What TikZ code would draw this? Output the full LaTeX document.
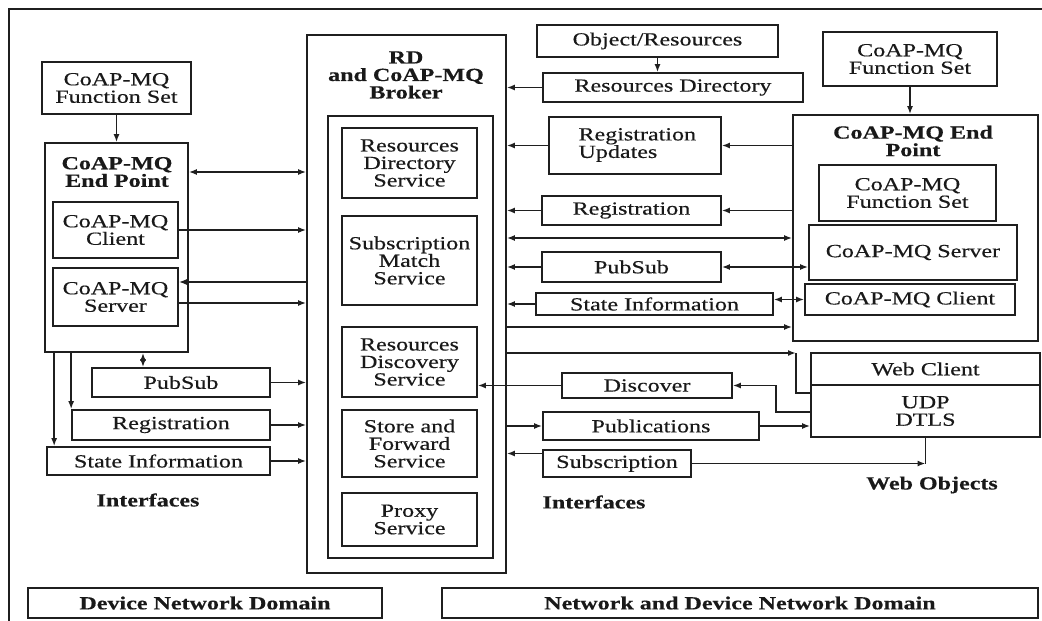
\documentclass[tikz,border=0pt]{standalone}
\usepackage{fontspec}
\setmainfont[FakeStretch=1.3,FakeBold=0.4]{Liberation Serif}
\usetikzlibrary{arrows.meta}
% box from its corner coordinates: [options]{name}{x1}{y1}{x2}{y2}{text}
\newcommand\bx[7][]{\node[box,#1,minimum width={(#5-#3)*1pt},minimum height={(#6-#4)*1pt}] (#2) at ({(#3+#5)/2},{(#4+#6)/2}) {#7};}
\begin{document}
\begin{tikzpicture}[x=1pt,y=-1pt,
  every node/.style={font=\fontsize{18.5}{17.5}\selectfont, text=black!90},
  box/.style={draw=black!88, line width=1.7pt, inner sep=0pt, align=center},
  ttl/.style={font=\fontsize{18.5}{17.5}\selectfont\bfseries, align=center},
  ln/.style={draw=black!88, line width=1.6pt},
  arr/.style={ln, -{Latex[length=8pt,width=6pt]}},
  darr/.style={ln, {Latex[length=8pt,width=6pt]}-{Latex[length=8pt,width=6pt]}},
]
\useasboundingbox (0,0) rectangle (1042,621);
\fill[white] (0,0) rectangle (1042,621);

% outer frame
\draw[ln, line width=2pt] (9,621) -- (9,9) -- (1042,9);

% ---------- left end point ----------
\bx{lfs}{42}{62}{191}{114}{CoAP-MQ\\Function Set}
\bx{lep}{45}{143}{188}{352}{}
\node[ttl] (ltitle) at (117,172) {CoAP-MQ\\End Point};
\bx{lcli}{53}{202}{178}{258}{CoAP-MQ\\Client}
\bx{lsrv}{53}{268}{178}{326}{CoAP-MQ\\Server}
\bx{lpub}{92}{368}{270}{397}{PubSub}
\bx{lreg}{72}{410}{270}{440}{Registration}
\bx{lstate}{47}{447}{270}{475}{State Information}
\node[ttl] (lint) at (148,500) {Interfaces};

% ---------- broker ----------
\bx{broker}{307}{35}{506}{573}{}
\node[ttl] (btitle) at (406,75) {RD\\and CoAP-MQ\\Broker};
\bx{inner}{328}{116}{493}{558}{}
\bx{s1}{342}{128}{477}{198}{Resources\\Directory\\Service}
\bx{s2}{342}{216}{477}{305}{Subscription\\Match\\Service}
\bx{s3}{342}{327}{477}{397}{Resources\\Discovery\\Service}
\bx{s4}{342}{410}{477}{477}{Store and\\Forward\\Service}
\bx{s5}{342}{493}{477}{546}{Proxy\\Service}

% ---------- network side interfaces ----------
\bx{objres}{537}{25}{778}{57}{Object/Resources}
\bx{resdir}{543}{73}{803}{102}{Resources Directory}
\bx{regupd}{549}{117}{721}{174}{}
\node[align=left, anchor=west] (regupdtxt) at (575,145) {Registration\\Updates};
\bx{mreg}{542}{196}{721}{225}{Registration}
\bx{mpub}{542}{252}{721}{282}{PubSub}
\bx{mstate}{536}{293}{773}{315}{State Information}
\bx{discover}{562}{373}{732}{398}{Discover}
\bx{publ}{543}{412}{759}{440}{Publications}
\bx{subs}{543}{450}{691}{477}{Subscription}
\node[ttl] (mint) at (594,502) {Interfaces};

% ---------- right end point ----------
\bx{rfs}{823}{32}{997}{86}{CoAP-MQ\\Function Set}
\bx{rep}{793}{115}{1038}{341}{}
\node[ttl] (rtitle) at (913,141) {CoAP-MQ End\\Point};
\bx{rfsin}{819}{165}{996}{221}{CoAP-MQ\\Function Set}
\bx{rsrv}{809}{225}{1017}{280}{CoAP-MQ Server}
\bx{rcli}{805}{284}{1015}{315}{CoAP-MQ Client}

% ---------- web objects ----------
\bx{webcl}{811}{353}{1040}{385}{Web Client}
\bx{udp}{811}{385}{1040}{437}{UDP\\DTLS}
\node[ttl] (webobj) at (932,485) {Web Objects};

% ---------- domains ----------
\bx[font=\fontsize{18.5}{17.5}\selectfont\bfseries]{dnd}{28}{588}{382}{618}{Device Network Domain}
\bx[font=\fontsize{18.5}{17.5}\selectfont\bfseries]{ndnd}{442}{588}{1038}{618}{Network and Device Network Domain}

% helper points
\coordinate (sa) at ([yshift=15pt]lsrv.east);
\coordinate (sb) at ([yshift=-6pt]lsrv.east);
\coordinate (px) at ([xshift=-38pt]lpub.north);
\coordinate (stx) at ([xshift=8pt]lstate.north west);
\coordinate (ya) at (0,238);
\coordinate (yb) at (0,327);
\coordinate (c1) at (796,353);
\coordinate (c2) at (796,393);
\coordinate (c3) at (776,412);
\coordinate (sc) at ([yshift=10pt]subs.west);
\coordinate (c4) at (udp.south |- subs.east);

% ---------- connectors, left ----------
\draw[arr] (lfs.south) -- (lfs.south |- lep.north);
\draw[darr] (lep.east |- ltitle) -- (broker.west |- ltitle);
\draw[arr] (lcli.east) -- (broker.west |- lcli.east);
\draw[arr] (broker.west |- sa) -- (sa);
\draw[arr] (sb) -- (broker.west |- sb);
\draw[darr] (px |- lep.south) -- (px);
\draw[arr] (lpub.east) -- (broker.west |- lpub.east);
\draw[arr] (lreg.north west |- lep.south) -- (lreg.north west);
\draw[arr] (stx |- lep.south) -- (stx);
\draw[arr] (lreg.east) -- (broker.west |- lreg.east);
\draw[arr] (lstate.east) -- (broker.west |- lstate.east);

% ---------- connectors, right ----------
\draw[arr] (objres.south) -- (objres.south |- resdir.north);
\draw[arr] (resdir.west) -- (broker.east |- resdir.west);
\draw[arr] (regupd.west) -- (broker.east |- regupd.west);
\draw[arr] (rep.west |- regupd.east) -- (regupd.east);
\draw[arr] (rfs.south) -- (rfs.south |- rep.north);
\draw[arr] (mreg.west) -- (broker.east |- mreg.west);
\draw[arr] (rep.west |- mreg.east) -- (mreg.east);
\draw[darr] (broker.east |- ya) -- (rep.west |- ya);
\draw[arr] (mpub.west) -- (broker.east |- mpub.west);
\draw[darr] (mpub.east) -- (rsrv.west |- mpub.east);
\draw[arr] (mstate.west) -- (broker.east |- mstate.west);
\draw[darr] (mstate.east |- rcli.west) -- (rcli.west);
\draw[arr] (broker.east |- yb) -- (rep.west |- yb);
\draw[arr] (broker.east |- c1) -- (c1);
\draw[ln] (c1) -- (c2) -- (udp.west |- c2);
\draw[arr] (discover.west) -- (s3.east |- discover.west);
\draw[arr] (udp.west |- c3) -- (c3) |- (discover.east);
\draw[arr] (broker.east |- publ.west) -- (publ.west);
\draw[arr] (publ.east) -- (udp.west |- publ.east);
\draw[arr] (sc) -- (broker.east |- sc);
\draw[arr] (subs.east) -- (c4);
\draw[ln] (udp.south) -- (c4);
\end{tikzpicture}
\end{document}
